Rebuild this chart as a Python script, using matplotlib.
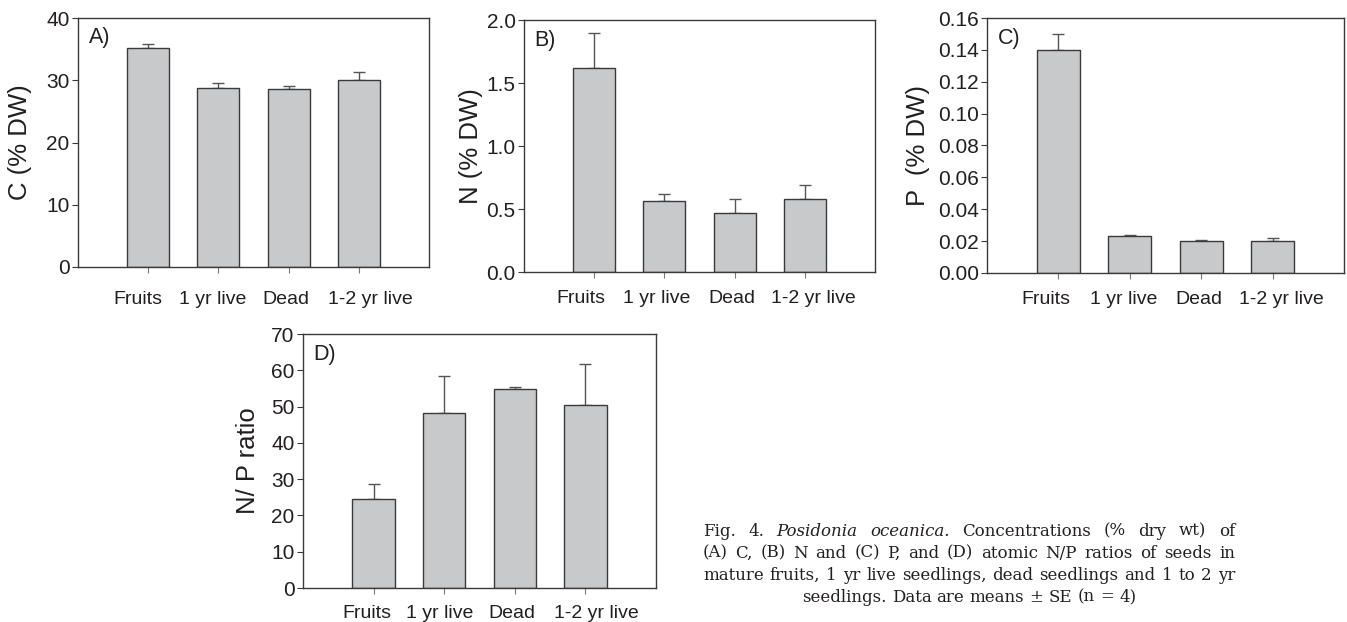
import numpy as np
import matplotlib
matplotlib.use("Agg")
import matplotlib.pyplot as plt
from matplotlib.transforms import ScaledTranslation

plt.rcParams['font.family'] = ['Liberation Sans', 'DejaVu Sans']

categories = ["Fruits", "1 yr live", "Dead", "1-2 yr live"]

c_mean = [35.2, 28.7, 28.6, 30.0]
c_se = [0.6, 0.8, 0.5, 1.4]
n_mean = [1.62, 0.56, 0.47, 0.58]
n_se = [0.28, 0.06, 0.11, 0.11]
p_mean = [0.140, 0.023, 0.020, 0.020]
p_se = [0.010, 0.001, 0.0007, 0.002]
np_mean = [24.5, 48.1, 54.8, 50.5]
np_se = [4.1, 10.4, 0.5, 11.1]

W, H = 1347, 622
TXT = '#231f20'
EDGE = '#3a3a3a'
BAR = '#c8c9cb'

fig = plt.figure(figsize=(W / 100, H / 100), dpi=100)


def px_axes(l, t, r, b):
    return fig.add_axes([l / W, 1 - b / H, (r - l) / W, (b - t) / H])


panels = [
    # box (l, t, r, b), means, se, yticks, fmt, ylabel, label x, tag, xlabel pad, label shifts (px)
    ((78, 18, 429, 267), c_mean, c_se, np.arange(0, 41, 10), "{:.0f}", "C (% DW)", -0.130, "A)", 13, [-10, -6, -3, 12]),
    ((524, 20, 875, 272), n_mean, n_se, np.arange(0, 2.01, 0.5), "{:.1f}", "N (% DW)", -0.117, "B)", 9, [-13, -8, -3, 9]),
    ((987, 18, 1344, 273), p_mean, p_se, np.arange(0, 0.161, 0.02), "{:.2f}", "P  (% DW)", -0.160, "C)", 9, [-13, -6, -2, 9]),
    ((303, 334, 656, 588), np_mean, np_se, np.arange(0, 71, 10), "{:.0f}", "N/ P ratio", -0.122, "D)", 8.5, [-7, -5, -3, 11]),
]

x = np.arange(len(categories))
for box, mean, se, yt, fmt, ylab, lx, tag, xpad, shifts in panels:
    ax = px_axes(*box)
    ax.bar(x, mean, width=0.6, color=BAR, edgecolor=EDGE, linewidth=1.0, zorder=2)
    ax.errorbar(x, mean, yerr=[np.zeros(len(se)), se], fmt='none', ecolor='#555555',
                elinewidth=1.0, capsize=4, capthick=1.0, zorder=1)
    ax.set_xlim(-1, 4)
    ax.set_ylim(yt[0], yt[-1])
    ax.set_yticks(yt)
    ax.set_yticklabels([fmt.format(v) for v in yt])
    ax.set_xticks(x)
    ax.set_xticklabels(categories)
    ax.tick_params(axis='y', direction='out', length=4, width=0.8, color=EDGE,
                   labelsize=15, labelcolor=TXT, pad=2)
    ax.tick_params(axis='x', direction='out', length=4, width=0.8, color='#777777',
                   labelsize=14, labelcolor=TXT, pad=xpad)
    # the category names sit a little off their ticks in the original
    for lab, dx in zip(ax.get_xticklabels(), shifts):
        lab.set_transform(lab.get_transform() + ScaledTranslation(dx / 100, 0, fig.dpi_scale_trans))
    for s in ax.spines.values():
        s.set_color(EDGE)
        s.set_linewidth(1.0)
    ax.set_ylabel(ylab, fontsize=18.5, color=TXT)
    ax.yaxis.set_label_coords(lx, 0.5)
    ax.text(0.03, 0.92, tag, transform=ax.transAxes, fontsize=15.5, color=TXT,
            ha='left', va='center')

# caption, justified like the journal layout
cap_left, cap_right = 703, 1235
cap_lines = [
    ([("Fig.", 'normal'), ("4.", 'normal'), ("Posidonia", 'italic'), ("oceanica.", 'italic'),
      ("Concentrations", 'normal'), ("(%", 'normal'), ("dry", 'normal'), ("wt)", 'normal'),
      ("of", 'normal')], 531, True),
    ([(w, 'normal') for w in "(A) C, (B) N and (C) P, and (D) atomic N/P ratios of seeds in".split()], 553, True),
    ([(w, 'normal') for w in "mature fruits, 1 yr live seedlings, dead seedlings and 1 to 2 yr".split()], 575, True),
    ([(w, 'normal') for w in "seedlings. Data are means ± SE (n = 4)".split()], 597, False),
]
cap_font = dict(family=['DejaVu Serif'], fontsize=12, color=TXT)

fig.canvas.draw()
renderer = fig.canvas.get_renderer()
for words, yc, justify in cap_lines:
    texts = []
    for w, st in words:
        t = fig.text(0, 1 - yc / H, w, style=st, va='center', ha='left', **cap_font)
        texts.append(t)
    widths = [t.get_window_extent(renderer).width for t in texts]
    if justify:
        gap = (cap_right - cap_left - sum(widths)) / (len(words) - 1)
        xpos = cap_left
    else:
        sp = fig.text(0, 0, "a a", **cap_font)
        sp2 = fig.text(0, 0, "aa", **cap_font)
        gap = sp.get_window_extent(renderer).width - sp2.get_window_extent(renderer).width
        sp.remove()
        sp2.remove()
        total = sum(widths) + gap * (len(words) - 1)
        xpos = (cap_left + cap_right) / 2 - total / 2
    for t, wd in zip(texts, widths):
        t.set_x(xpos / W)
        xpos += wd + gap

fig.savefig("out.png", dpi=100)
